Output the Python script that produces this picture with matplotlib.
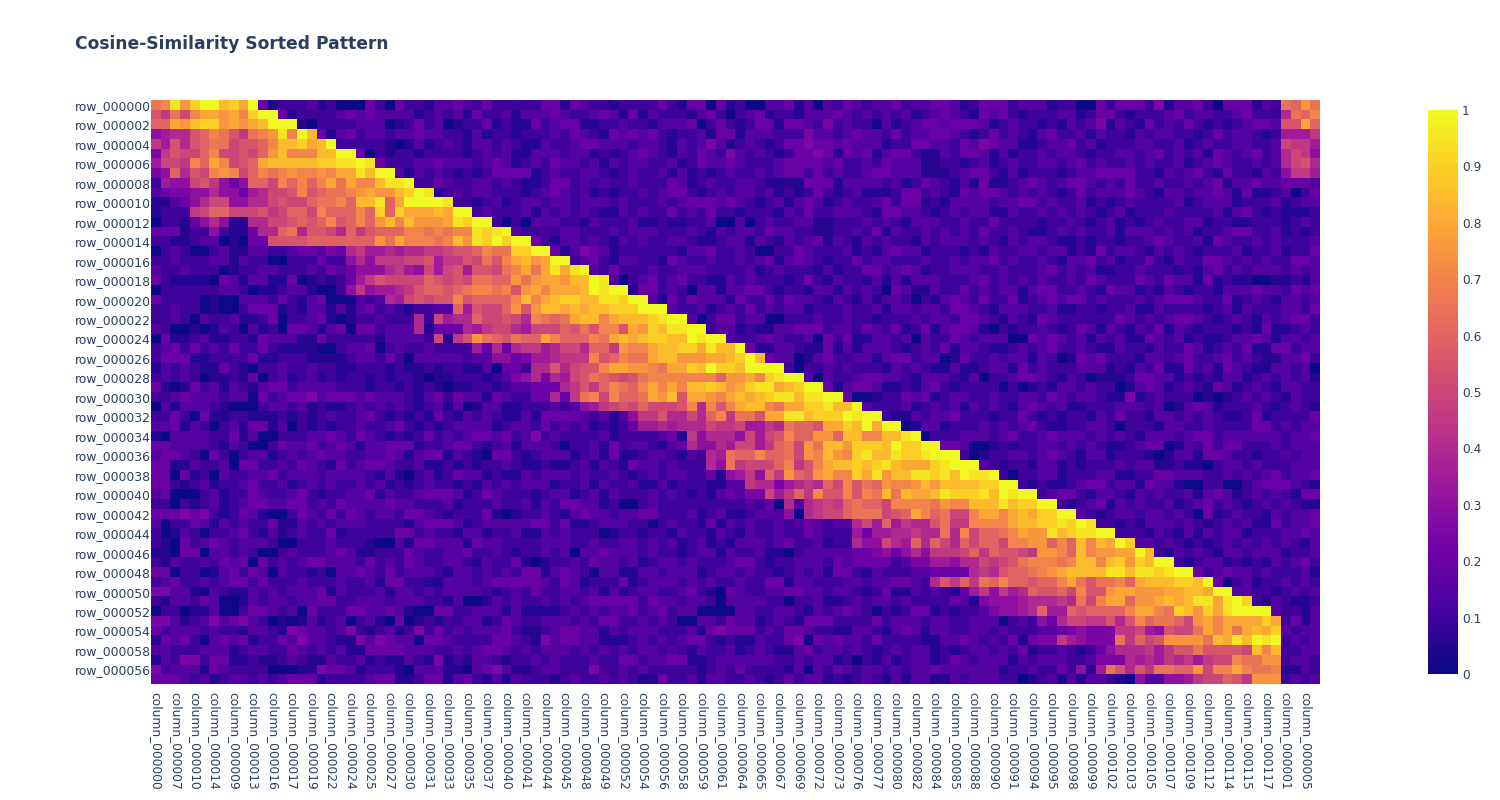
# plot.py
# Cosine-similarity sorted heatmap.
# Each cell is one letter: a = 0.00, b = 0.05, ... u = 1.00

import numpy as np

import matplotlib
matplotlib.use("Agg")
import matplotlib.pyplot as plt
from matplotlib.colors import LinearSegmentedColormap


# ---------------------------------------------------------
# Data
# ---------------------------------------------------------
row_labels = [
    "row_000000", "row_000002", "row_000004", "row_000006", "row_000008",
    "row_000010", "row_000012", "row_000014", "row_000016", "row_000018",
    "row_000020", "row_000022", "row_000024", "row_000026", "row_000028",
    "row_000030", "row_000032", "row_000034", "row_000036", "row_000038",
    "row_000040", "row_000042", "row_000044", "row_000046", "row_000048",
    "row_000050", "row_000052", "row_000054", "row_000058", "row_000056",
]

column_labels = [
    "column_000000", "column_000007", "column_000010", "column_000014",
    "column_000009", "column_000013", "column_000016", "column_000017",
    "column_000019", "column_000022", "column_000024", "column_000025",
    "column_000027", "column_000030", "column_000031", "column_000033",
    "column_000035", "column_000037", "column_000040", "column_000041",
    "column_000044", "column_000045", "column_000048", "column_000049",
    "column_000052", "column_000054", "column_000056", "column_000058",
    "column_000059", "column_000061", "column_000064", "column_000065",
    "column_000067", "column_000069", "column_000072", "column_000073",
    "column_000076", "column_000077", "column_000080", "column_000082",
    "column_000084", "column_000085", "column_000088", "column_000090",
    "column_000091", "column_000094", "column_000095", "column_000098",
    "column_000099", "column_000102", "column_000103", "column_000105",
    "column_000107", "column_000109", "column_000112", "column_000114",
    "column_000115", "column_000117", "column_000001", "column_000005",
]

colorbar_ticks = [0, 0.1, 0.2, 0.3, 0.4, 0.5, 0.6, 0.7, 0.8, 0.9, 1]
colorbar_labels = ["0", "0.1", "0.2", "0.3", "0.4", "0.5", "0.6", "0.7", "0.8", "0.9", "1"]

cell_codes = [
    "notpsuursq uebcccdbca aaecaeccbd dedceccccc eebedccbcc ccecbeeaeb caaddebdad cedcddecdd eedbceeecd ddbccaaece eecfbddeca eeebdcnmpn",
    "ljnkoqqpqo suuebccccd ededdddbcd cdbeccdbdd dedccdedbe bdcccbdeca cdebccbddd edcdcdcdbc dedcbedecb cccddbceec bcccdecddc cdecccinmo",
    "mmqprsspqp qruuubaccc cdddabcecd abccebcbbe cdeebbccdc cbdddeacec bceebeedcf cdccadbcde edeeedbcdc cbcbdcdfbd cbecdcecbc bcdeedllqm",
    "ghiilmonlj noptourebd ecddcddedd ccbdbccbcc cdcedcbede decbccdbee bdddcccfdd cdeddcecdd eedcbcecdc bdeccdbdcc bdcddccbce cddcbchhhj",
    "jhlilmnnkl lmorrsqruc ccccbabdbc dcbddcdcbb dccdeedddc ddcbdcdfdb cdcbceefee dedddbccee ddcedfeddb bcddecdbcc cddccdbcdc cddccdkjjh",
    "fjlkkmokkl kmprooorru ueacbccbcc ccbcdcdbbd ddcddbcbcd edcbdcedcf dcdcbceefe bedebdeecb bdceedbdbc cdcddcbccd dcdecdcdbe dcdecdikjg",
    "hkkjomqokl mqrrrrrsst tutecccdde dddcdedbcd ceddcdbdcd dccdbcedde dcccdeeeed eccdcedddb bccbcdbcdc cddcdecdcc dcdccdbcde dccdcdikli",
    "fgmilkopok monopoopoq qtruudbdcd cbcbceeeeb cdccddcbcd ccdbdbcbcd ccdcdeecec dccdeedddb bbcdeecbdb cccbcddeee eccbdcdecb eccbdcgjjh",
    "chggkljgeg mmkomomoqn qoorttucce dccddcdcbb ceecdcdccd cccedbcdcc ddcbbbbeee bddddcdbce dcbdbebbcd edcdeedcdc eccdccdcde bddeddeeed",
    "deffggigge hikklolmnn opqpprsutb cdcddcccbc dedcdbcbcc dcdeecbcdc ddcdbcbcec bcdbbbceec dcbedeedcd cdcbcecddd edcbddcdde dbebbcdace",
    "bbdegikkgg iiklkkmnno mrrtmquuuu tccbcdbcdd cddcdddcdc ccdcdeeede dcbcdbdedb cdccdeceeb cbddddcdde ecdccdbcbc dccccdbcdd dbcccdbcdd",
    "bcccjkmmkk kljkmmkomm momsmsqqqr quucdcccdb dcdcdcbbdc dccecdcecc bcccbdcecc dddcbeeddc bcdcddbbdc cdcdcdcbcd bcccdccccd bdecbcbbbc",
    "accbegigbb iikklmlmol momprorppp qtsuucacad ddccbdcccd bbcbbccdaa dacdccddbb cccdcdcbdd dccdcceccc cbccdcbcdb cbcdccddbc cbbcccbcdc",
    "eeebccgcbb eiimnillki mjlmmmoono nootstudcc ccddcccdcd ddcccdcbdc ddceddccbb ccdcebdccd cdcdceccdc bbcdcdccdb dddcdcdbcc deeccdbcbc",
    "ccbbcddaba eellllmmmm mmmpnqooon orptsusuue cbddcdcbdc dccddcbbcd dbdcbdcdeb dcbdcdccbd cdddcdcbdc ddcbbcbccb ccdedccdbe dccdcdcccd",
    "acdcaacdbb ddccdeedfe ijhhihiijj kllmonnssu uebdfedbcc ccccbddecc dcaaccedcc cdbcbdeddb cccbcbdccd dcddbcbecd dcbdcdcbcc cdbccdbcce",
    "ccdcccddbd ccaacccecc gigjjjkklh jjlknloqrp quucdecbdd ccbedccdcc dcdebdedcb ccecddcccd ccdcddecdc cdcbddecdb ccecbdccee dcdcdcceed",
    "dccdcccabc cddcccdced egggijhgkh klhllknoqn qtqtudcecc cdccdddccc cdbcdcccbd bcceecdedb ccdddccdcc cdecdcdbbc cdcccbcbde cdcdddcdcd",
    "ecbbbbaedb ddbbeabcbc ehjlkkkkml klknnmmpnp qqprrutdac decdeccbbd cdcccbcecb dccbdbdbdd dcccdecdcd cdccdcedcc cedceddbeb cbbaabbcbd",
    "accccccddc abbcddbaac gjghhijlmm lmnoonolpq oqqqrutuub eecdcaddbd deecbccbdd bdcdcaedbb dccecdcddb deeccdcbed dbcbdcbccb dddeddcede",
    "eccccabaad ddcecbdeaa adcdihklkl lolmmmmoro qrssrrttsu udbecedddb ecceceddcb dcbdbddcac bdedcecceb cdedeecdcc cdcdeeedcc ebcdcbddcd",
    "ccdccabaac eeebcbddbd bdecdcbccd dmhlkkmplp rrqrqrrsss uuudccdbcd cecdcddbcc cdccdbddcd dceedcbddd ccdbbccbcc dbbdccccbc dbdcccddce",
    "ccdcadccdb bceaccdeba bccdcccick hiimkklkio nmnqrroqrr rstuudacee cddaacccdc cdccbcccdc ddceedcbdc bedcccccce dcdcdeedcb cdcbdcdeec",
    "dcaababdca dbcaeedbde aeecdddibe eeihjkkihk kkmlnloolq psrttuucdd bcbbddeeec ddcedcebce bdeedbacbc cdcbcedbdc bdcebdcbcc cbcbebbcdc",
    "aebbcdbbcc bedddbbecc cccbddddck bjlpnmlnmm qommmonqrq rssrrutuud ccdedccdae cebbddcdad ccedcdddaa ededcdbdcd bbedcdbcbb cddedbddcd",
    "cdececdcec cecbbbbaac ddeacdccdc cccheieijj hikkimmjpo oqrrssqtrr uebbddcbbe bdbdddcbcd cebddcbbcd cdeccdcbbd ccbdccedbc dcebbeecdd",
    "ceeebbcccc ebbcccbbbb cddcecaddd ddcddggefh hijjjolmon nqrrpppqqr sureddabde ccddbdeecd dabeccdcdd bdcabedecc cbddcdeccd ecdcbbddec",
    "bdcdcbbecb accdccdccb bcccbcbbcb ccbbdaeeci iliklloqqp ponqqsruss ruuuucaccd cdcccbdcdc bbdbbcddbe cdcccdddbc bdcebbecdb edcbbddcda",
    "cdcdcabbcb eacdbcdbcb ccbcbccbab bcccbcdfgi fihklnmlkl nooooooomp pqostuudad ccdeeddcbd ddcbdaccde edcbdcabbb ceeddbcbcb ddbcdcdcdb",
    "ebabecdbdc bdeecddddc ccbccbcbcb abbccbcdde eeijljmonm oqoqorrsrp qsttqrsuue bdeedbbcbd ecbccccaca bcbddcdcca bdedbcdcbe dbcdcbddcc",
    "ccdedddcdd aecdeefdee ededddcbde ceddbedcce eiejnokomm nqprlqqpoq rqrsttrttu ueaabccede bcddccdccd dcedcddcbb fbcdcccaba bcdcdcbdcc",
    "adbdddcbaa acddcdbcbb cdcdcdcbcd bdabddbbcc cdcdghjklk mkkkloiolo qrronqqsst rrudcccdbc dcdbdcdcbd edcdbbcccd ddcdabdedb cccdcbcdcb",
    "ccecaebbcc bbbcbcbcdc cdecbcbcbe cbdcdcbbdb eeeedcdbdg jjliikimoj nnlqqttrss sutuucbbdc ddecccbcce cbcbccbdce ccbddcdcdc bbcebcccce",
    "ddebdcacdb eebdacbcbc cdccdecbcb cddddbcddc ecdcdbcbce hhihiiikjj khhjinmmlq qsruquuabd dbcccdcdcd ecbbccddca cccbddccdc ccceecdcdd",
    "baddddcceb daacccdded cedcbcbcec dcdeedecdf cdccccdbcc ccdebjgiii gkhklommpp mrroorrtua cccdddcdec cdedddcdcd cbdddcdeec ddddddcdde",
    "eeddddcbdc aaceddecde dbddeeebcc deecbcdbdd dcaccdbecd dcbdeiggih kkhjmnkpnr rpsssrussu ueedaabcbc cddcdcdcbb cdeeabdcec eecccdcddd",
    "deedcaecac ddbcdcdedd ccddedbdee bdcbaeecbc dddbcdbebb cddcbdcihn mmommnkpor postrrtsst uuucabccdd cdedcbddbc ccbabddbee dccbccdcdd",
    "eebbdccdae eccdcedcbe cdeedccdbb cbcbccdcbb cbbcdbdcbe ddcdcccign jkkkmojloq rrsrstrqqq stuuudcbcc bddbcbcccd cddbbcbbac ddcdcccddd",
    "eeaebcadcc ddecdddcdd ddcbdbacdb ceddbcbbdc dddcdccdcb cdcddccebg hjgmjpmlpq oosqtprrtt struttucac cddbcccddb bcceedddcc dcdcdecdde",
    "eecbcdbccd eccdbcdcdc cdcdbcbcdc cbcbdcdcdd dbccdbdccd bbdbcccbbd djiifhijim kolnmpoopr prrrrssuuc bcbbcdeecd dbeddbaacc aacdeeedcb",
    "deaaacdbcc edccdecbcc ddebdccdee edbcedcccb cddbcdbdcc cdcdcbcbde dffkhjmjol lolonrnrqq rtssstrutu ucdeecbddc bdcdccdbde dbcdcdcbee",
    "ccacbcdbcd eeddeecdce ddddeddccc dbcccdccdb dceeddbcaa cdcccccccc cdceaidijk jmnmmkoooo npoorrrtrs suucbcdebd cdccdbcdec dcbcdcdcbb",
    "eeefefcbce dbaacedcec edcddceedc bcccebabcc dcbdeddcdd eecccdbcdb bcdddgaijk kmnnnklmqo mnkkoqqoqr qssuudcbcd dcddcdcaeb cdccbdcdde",
    "daccedbdcd ccebbdcdcd ddccccbdee edbcddddde ecebbcdddc cacdccbebd cdccdcdedc ddikhmhjii lnjjooooqr rsstsutccb cbdddcdcbc dcdbbecdde",
    "cabdcaccde cbdbcdcceb ccccceecdc cbddbccdbb dcdcccabcc bccbdccbdc bdccdccedc cchehhiiji iniokmmnoq pptrsttuuc ccbdcbdbdc ddbcccdded",
    "cbaecdedcd ddcaacccdc ccbaadbeed ddbeddcccc dddccdccdd cdcdbcdbcb dddcdeccdb cciggkihmi mkimkmmkoo ppmomrorqu sddcdcbcbc dcdcdcdcbd",
    "bbaeeaddcd caacdcccde dbbcccedcc ddeccdcbcc dcdaddeddd cdccbcddbd ccdbbacddd ddeefgegig jjjkmjmllk jppomroppq qurcbdcdcb ddcdddbccd",
    "cbdccdcede aecdcdeedd dcecdcedcc ddcbdcceba bccdceddcd bcddcdcccd eecbccdddc edeeeecdff hhgiikjkln ooonorrors psruucbcdd bcbcbdcdec",
    "eeaccabdec edadccbcad dedcecdddc bddcdcdcee bdedcaddbb ddcdddbcdd cdccbcdcdb eecbdcccdd eeeeijilmm nopqrrrrtt rttstuuecd eddcdcccdb",
    "cdeccdcdee cecccdcccd ccdbeeccbb dddcdeeeee dcedbccceb cdddcdcdcc dcceebddcc cddcddeedc iljmjnmomm lmmoqnlnno mqrrrssrue acdbccdcdc",
    "ffddbadcbb dcdcdddebd cccdbddcdc ddddcbcdce ccddcdbdbc ddccdecbae dccddeeddc ddcbcebbdc dcbehjgjhi mllmkollpq qpppqqrrqu uddccbcdcd",
    "cbddcedaab dcddcddeec cdddcdddcc bdaabdcdcc dcdcdeeeee ceddcddcad dddccaccdb bcdcddcdcc ccedbfgggh iiijinkoqq mppqrqrttq tuscbdcbbc",
    "accabbdaac eedcdaeccc eeddedbaae eccdddbdbb bbcdcdcdde cdecddaaaa ddccddcbdc dedcacbcee bcbccdfggh imhhmlmmmm oqqonsrpsq tuuuudccbd",
    "ffdbcdfdef dcababdbcd acdbaeabcb ccddbcedcc dddcdceecc dcdcaaddce ddbcdcbeee ccccecdddc ddccdddacd cgeikkjjli lomnnmkpqo qqqqsqcebd",
    "ecdddcdccb ddcbfeddcd fcbcdbcfce cdcdddecbb cdeeddbdcd ddcccdbefe eecdceedcc bbddcbdedb ddccddcdcc cddefgfffj jkhglkknqo qnqrqsdcdd",
    "bedecadede bccedfddcb bfdfeddaee dcccceedcb fdeeddbbbc dcdcdeecbc bbdccefaed eddceccccb bddedcdceb effjhgfffn jmklppppnr qtrutucdcd",
    "ddcccdddbc ddccedcdcd bbeeeedddc cdcdeedcdc dddcdcdcdc ddcdcbdccd bcdcbbdecd dcdcbcdcdd bcbcddcdce bccdcbcegi iijhjllnll llkrorccdd",
    "bdcffceebb cbbcdcbbdc cdbcbbdcbf bcbddcbccd cdcccdccee cddeebbcdd ddddccdcdd bcacbdbcdd bcedcdddbd cdddccdfff ihihjijhjk konnppcddc",
    "fcdddbedcc ccaaabbfee dbcccbaddd bbadefdbbc ddcccfccdc dcccccbcdc eccccbdadc edcddcdcdd eddddddbcc dccecgbhnl iljnnmmpko oqonnobbdc",
    "eeedcdbcdd cdcdeeebcc ccdeebbcee bdecbdbdcc cbcdccdcdc bbeccdbddc cdcbcecddb cbcdcbdbdd bbdcdddcca bcdbdbddcb agddgghjkk mljpppcdcd",
]

plasma_colors = [
    "#0d0887", "#46039f", "#7201a8", "#9c179e", "#bd3786",
    "#d8576b", "#ed7953", "#fb9f3a", "#fdca26", "#f0f921",
]

TEXT_COLOR = "#2a3f5f"


# ---------------------------------------------------------
# Helpers
# ---------------------------------------------------------
def decode_cells(codes):
    rows = []
    for i, code in enumerate(codes):
        letters = code.replace(" ", "")
        if len(letters) != 120:
            raise ValueError(f"row {i} has {len(letters)} cells")
        rows.append([(ord(ch) - ord("a")) / 20 for ch in letters])
    return np.array(rows)


def px_axes(fig, left, top, right, bottom):
    w, h = fig.get_size_inches() * fig.dpi
    return fig.add_axes([left / w, 1 - bottom / h, (right - left) / w, (bottom - top) / h])


# ---------------------------------------------------------
# Main
# ---------------------------------------------------------
def main():
    z = decode_cells(cell_codes)
    cmap = LinearSegmentedColormap.from_list("plotly_plasma", plasma_colors)

    plt.rcParams["font.family"] = ["DejaVu Sans"]
    fig = plt.figure(figsize=(15, 8), dpi=100)

    ax = px_axes(fig, 151, 100, 1320, 684)
    mesh = ax.imshow(z, cmap=cmap, vmin=0, vmax=1, aspect="auto", interpolation="nearest")

    ax.set_xticks(np.arange(0, z.shape[1], 2))
    ax.set_xticklabels(column_labels, rotation=-90, ha="center", va="top",
                       fontsize=8.8, color=TEXT_COLOR)
    ax.set_yticks(np.arange(0, z.shape[0], 2))
    ax.set_yticklabels(row_labels, fontsize=8.9, color=TEXT_COLOR, va="center_baseline")
    ax.tick_params(axis="both", length=0)
    ax.tick_params(axis="x", pad=6)
    ax.tick_params(axis="y", pad=0)
    for spine in ax.spines.values():
        spine.set_visible(False)

    cax = px_axes(fig, 1428, 110, 1458, 674)
    cbar = fig.colorbar(mesh, cax=cax)
    cbar.set_ticks(colorbar_ticks)
    cbar.set_ticklabels(colorbar_labels)
    cbar.ax.tick_params(length=0, pad=3, labelsize=8.8, labelcolor=TEXT_COLOR)
    cbar.outline.set_visible(False)

    fig.text(75 / 1500, 1 - 44 / 800, "Cosine-Similarity Sorted Pattern",
             fontsize=12.3, fontweight="bold", color=TEXT_COLOR, ha="left", va="center")

    fig.savefig("out.png", dpi=100)
    plt.close(fig)


if __name__ == "__main__":
    main()
